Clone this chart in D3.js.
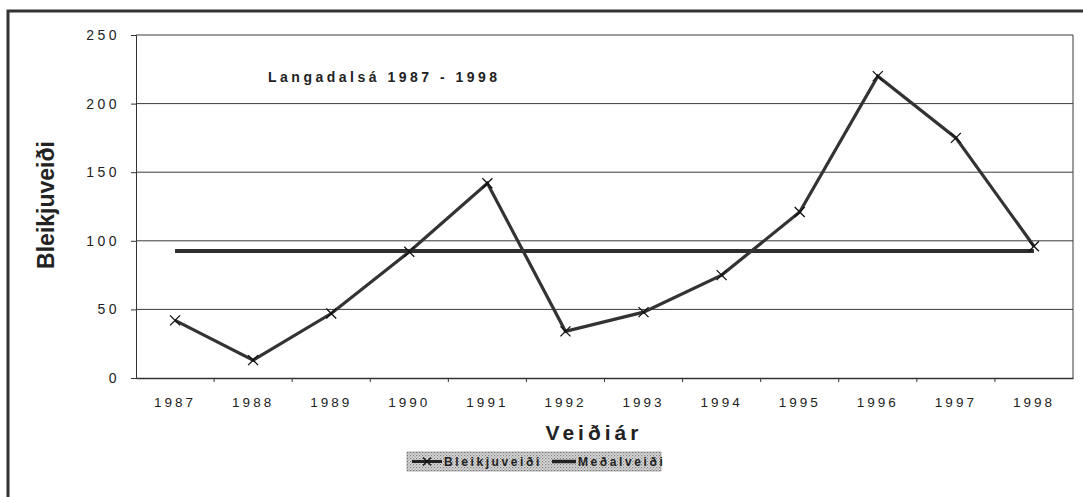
<!DOCTYPE html>
<html>
<head>
<meta charset="utf-8">
<script src="https://cdn.jsdelivr.net/npm/d3@7"></script>
<style>
  html, body { margin: 0; padding: 0; background: #fff; }
  svg { display: block; }
  text { font-family: Arial, "Liberation Sans", sans-serif; fill: #222; }
</style>
</head>
<body>
<svg id="chart" width="1083" height="497"></svg>
<script>
const years = ["1987","1988","1989","1990","1991","1992","1993","1994","1995","1996","1997","1998"];
const catch_ = [42, 13, 47, 92, 142, 34, 48, 75, 121, 220, 175, 96];
const average = [92.5, 92.5, 92.5, 92.5, 92.5, 92.5, 92.5, 92.5, 92.5, 92.5, 92.5, 92.5];
const yTicks = [0, 50, 100, 150, 200, 250];
const seriesNames = ["Bleikjuveiði", "Meðalveiði"];
const chartTitle = "Langadalsá 1987 - 1998";
const xTitle = "Veiðiár";
const yTitle = "Bleikjuveiði";

const svg = d3.select("#chart");
const plot = { left: 136, right: 1073, top: 35, bottom: 378 };

// outer frame
svg.append("rect").attr("x", 8).attr("y", 11).attr("width", 1100).attr("height", 520)
  .attr("fill", "none").attr("stroke", "#333").attr("stroke-width", 3);

const x = d3.scaleBand().domain(years).range([plot.left, plot.right]).paddingInner(0).paddingOuter(0);
const y = d3.scaleLinear().domain([0, 250]).range([plot.bottom, plot.top]);
const cx = d => x(d) + x.bandwidth() / 2;

// gridlines
svg.append("g").selectAll("line").data(yTicks.filter(t => t > 0)).join("line")
  .attr("x1", plot.left).attr("x2", plot.right)
  .attr("y1", d => y(d)).attr("y2", d => y(d))
  .attr("stroke", "#3a3a3a").attr("stroke-width", 1);

// right border
svg.append("line").attr("x1", plot.right).attr("x2", plot.right)
  .attr("y1", plot.top).attr("y2", plot.bottom).attr("stroke", "#3a3a3a").attr("stroke-width", 1);

// y axis
const yAxis = d3.axisLeft(y).tickValues(yTicks).tickSize(5).tickPadding(11);
const gy = svg.append("g").attr("transform", `translate(${plot.left},0)`).call(yAxis);
gy.select(".domain").attr("stroke", "#333");
gy.selectAll(".tick line").attr("stroke", "#333");
gy.selectAll(".tick text").attr("font-size", 14).attr("letter-spacing", "3.5px")
  .attr("font-family", "Arial, 'Liberation Sans', sans-serif").attr("fill", "#222");

// x axis
const xAxis = d3.axisBottom(x).tickSize(0).tickPadding(19);
const gx = svg.append("g").attr("transform", `translate(0,${plot.bottom})`).call(xAxis);
gx.select(".domain").attr("stroke", "#333").attr("stroke-width", 1.5);
gx.selectAll(".tick text").attr("font-size", 13.5).attr("letter-spacing", "3px")
  .attr("font-family", "Arial, 'Liberation Sans', sans-serif").attr("fill", "#222");
// band boundary ticks
svg.append("g").selectAll("line").data(years.slice(1)).join("line")
  .attr("x1", d => x(d)).attr("x2", d => x(d))
  .attr("y1", plot.bottom).attr("y2", plot.bottom + 4)
  .attr("stroke", "#333");

// average line
const line = d3.line().x((d, i) => cx(years[i])).y(d => y(d));
svg.append("path").datum(average).attr("d", line)
  .attr("fill", "none").attr("stroke", "#2e2e2e").attr("stroke-width", 4);

// catch line
svg.append("path").datum(catch_).attr("d", line)
  .attr("fill", "none").attr("stroke", "#333").attr("stroke-width", 3.2)
  .attr("stroke-linejoin", "miter");

// x markers
const m = 5;
svg.append("g").selectAll("path").data(catch_).join("path")
  .attr("d", (d, i) => {
    const px = cx(years[i]), py = y(d);
    return `M${px - m},${py - m}L${px + m},${py + m}M${px - m},${py + m}L${px + m},${py - m}`;
  })
  .attr("stroke", "#111").attr("stroke-width", 1.3).attr("fill", "none");

// chart title
svg.append("text").attr("x", 268).attr("y", 82).attr("font-size", 14).attr("font-weight", "bold")
  .attr("letter-spacing", "3.5px").text(chartTitle);

// axis titles
svg.append("text").attr("x", 594).attr("y", 440).attr("text-anchor", "middle")
  .attr("font-size", 21).attr("font-weight", "bold").attr("letter-spacing", "4px").text(xTitle);
svg.append("text").attr("transform", "translate(54,205) rotate(-90)").attr("text-anchor", "middle")
  .attr("font-size", 23).attr("font-weight", "bold").text(yTitle);

// legend
const defs = svg.append("defs");
const pat = defs.append("pattern").attr("id", "dots").attr("width", 3).attr("height", 3)
  .attr("patternUnits", "userSpaceOnUse");
pat.append("rect").attr("width", 3).attr("height", 3).attr("fill", "#dcdcdc");
pat.append("rect").attr("width", 1.2).attr("height", 1.2).attr("fill", "#7a7a7a");
pat.append("rect").attr("x", 1.5).attr("y", 1.5).attr("width", 1.2).attr("height", 1.2).attr("fill", "#909090");

const lg = svg.append("g").attr("transform", "translate(407,452)");
lg.append("rect").attr("width", 254).attr("height", 19).attr("fill", "url(#dots)")
  .attr("stroke", "#777").attr("stroke-width", 0.6);
const items = [
  { name: seriesNames[0], x0: 5, len: 30, tx: 37, marker: true, sw: 3 },
  { name: seriesNames[1], x0: 145, len: 24, tx: 171, marker: false, sw: 3.5 }
];
items.forEach(it => {
  lg.append("line").attr("x1", it.x0).attr("x2", it.x0 + it.len).attr("y1", 9.5).attr("y2", 9.5)
    .attr("stroke", "#222").attr("stroke-width", it.sw);
  if (it.marker) {
    const mx = it.x0 + it.len / 2;
    lg.append("path").attr("d", `M${mx - 4},${5.5}L${mx + 4},${13.5}M${mx - 4},${13.5}L${mx + 4},${5.5}`)
      .attr("stroke", "#111").attr("stroke-width", 1.2);
  }
  lg.append("text").attr("x", it.tx).attr("y", 14).attr("font-size", 12).attr("font-weight", "bold")
    .attr("letter-spacing", "2.6px").attr("fill", "#222").text(it.name);
});
</script>
</body>
</html>
